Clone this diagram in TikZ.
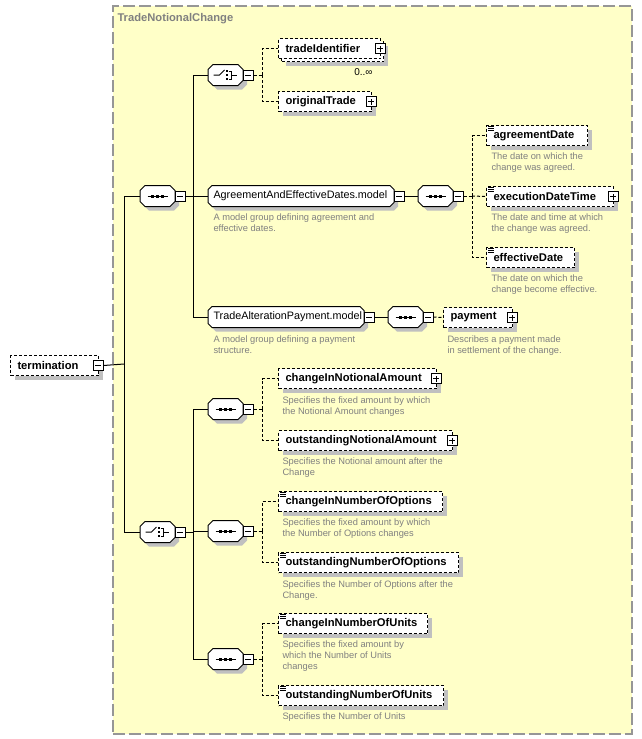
\documentclass[tikz,border=0pt]{standalone}
\usepackage{fontspec}
\setmainfont{Liberation Sans}
\usetikzlibrary{shadows}
\definecolor{bgyellow}{RGB}{255,255,200}
\definecolor{bordergray}{RGB}{150,150,150}
\definecolor{shadowgray}{RGB}{192,192,192}
\definecolor{descgray}{RGB}{128,128,128}
\tikzset{
  shad/.style={drop shadow={shadow xshift=4pt, shadow yshift=-4pt, fill=shadowgray, opacity=1}},
  elem/.style={rectangle, draw=black, dash pattern=on 3pt off 2pt, fill=white, minimum height=20pt, inner sep=0pt, shad},
  elemns/.style={rectangle, draw=black, dash pattern=on 3pt off 2pt, fill=white, minimum height=20pt, inner sep=0pt},
  compbox/.style={rectangle, draw=none, minimum width=34pt, minimum height=20pt, inner sep=0pt},
  mgbox/.style={rectangle, draw=none, minimum height=20pt, inner sep=0pt},
  octo/.style={draw=black, solid, fill=white, shad},
  mbox/.style={rectangle, draw=black, solid, fill=white, minimum size=10pt, inner sep=0pt,
    path picture={\draw[black] ([xshift=-3pt]path picture bounding box.center) -- ([xshift=3pt]path picture bounding box.center);}},
  pbox/.style={rectangle, draw=black, solid, fill=white, minimum size=10pt, inner sep=0pt,
    path picture={\draw[black] ([xshift=-3pt]path picture bounding box.center) -- ([xshift=3pt]path picture bounding box.center)
      ([yshift=-3pt]path picture bounding box.center) -- ([yshift=3pt]path picture bounding box.center);}},
  elname/.style={font=\fontsize{11.2}{13}\selectfont\bfseries, inner sep=0pt, anchor=west},
  mgname/.style={font=\fontsize{10.8}{13}\selectfont, inner sep=0pt, anchor=west},
  desc/.style={font=\fontsize{9.3}{11}\selectfont, text=descgray, align=left, inner sep=0pt, anchor=north west},
  conn/.style={draw=black, solid},
  opt/.style={draw=black, dash pattern=on 3pt off 2pt},
}
% octagon outline over a node: name, chamfer
\newcommand{\Oct}[2]{\path[octo] ([xshift=#2pt]#1.north west) -- ([xshift=-#2pt]#1.north east)
  -- ([yshift=-#2pt]#1.north east) -- ([yshift=#2pt]#1.south east) -- ([xshift=-#2pt]#1.south east)
  -- ([xshift=#2pt]#1.south west) -- ([yshift=#2pt]#1.south west) -- ([yshift=-#2pt]#1.north west) -- cycle;}
% element box: name, x, ytop, width, text
\newcommand{\El}[5]{%
  \node[elem, minimum width=#4pt, anchor=north west] (#1) at (#2,#3) {};
  \node[elname] (#1-t) at ([xshift=7pt]#1.west) {#5};}
\newcommand{\Pl}[1]{\node[pbox] (#1-p) at ([xshift=-1pt]#1.east) {};}
\newcommand{\Eqi}[1]{\draw[black, line width=1pt] ([shift={(2,1)}]#1.north west) -- ++(6,0)
   ([shift={(2,3)}]#1.north west) -- ++(6,0) ([shift={(2,5)}]#1.north west) -- ++(6,0);}
% sequence compositor: name, xleft, ycenter
\newcommand{\Seq}[3]{%
  \node[compbox, anchor=west] (#1) at (#2,#3) {};
  \Oct{#1}{5}
  \draw[black] ([xshift=-10pt]#1.center) -- ([xshift=10pt]#1.center);
  \foreach \dx in {-5,0,5} {\fill[black] ([shift={(\dx-1.5,-1.5)}]#1.center) rectangle ++(3,3);}
  \node[mbox] (#1-m) at ([xshift=5pt]#1.east) {};}
\newcommand{\Cho}[3]{%
  \node[compbox, anchor=west] (#1) at (#2,#3) {};
  \Oct{#1}{5}
  \draw[black] ([xshift=-12pt]#1.center) -- ([xshift=-6pt]#1.center) -- ([shift={(-1,-5)}]#1.center);
  \foreach \dy in {-4,0,4} {\fill[black] ([shift={(0,\dy-1)}]#1.center) rectangle ++(2,2);}
  \draw[black] ([shift={(3,-4)}]#1.center) -- ([shift={(6,-4)}]#1.center) -- ([shift={(6,4)}]#1.center) -- ([shift={(3,4)}]#1.center)
     ([shift={(6,0)}]#1.center) -- ([shift={(11,0)}]#1.center);
  \node[mbox] (#1-m) at ([xshift=5pt]#1.east) {};}
\begin{document}
\begin{tikzpicture}[x=1pt,y=-1pt,line width=1pt]
\useasboundingbox (0,0) rectangle (641,739);
% background complex type
\node[rectangle, draw=bordergray, line width=1.6pt, dash pattern=on 12pt off 4pt, fill=bgyellow,
  minimum width=519pt, minimum height=728pt, anchor=north west, inner sep=0pt] (bg) at (112,5) {};
\node[font=\fontsize{11.2}{13}\selectfont\bfseries, text=descgray, anchor=west, inner sep=0pt] (title) at (117,19) {TradeNotionalChange};

% termination
\El{term}{10}{355}{88}{termination}
\node[mbox] (term-m) at ([xshift=-1pt]term.east) {};

% top sequence and choice
\Seq{seqTop}{140}{196}
\Cho{choTop}{208}{75}

% tradeIdentifier (multiple)
\node[elem, minimum width=102pt, anchor=north west] (tidB) at (281,41) {};
\node[elemns, minimum width=102pt, anchor=north west] (tid) at (278,38) {};
\node[elname] (tid-t) at ([xshift=7pt]tid.west) {tradeIdentifier};
\Pl{tid}
\node[font=\fontsize{10}{12}\selectfont, anchor=east, inner sep=0pt] (tid-occ) at (373,72) {0..∞};

\El{ot}{278}{91}{93}{originalTrade}
\Pl{ot}

% AgreementAndEffectiveDates.model
\node[mgbox, minimum width=185pt, anchor=west] (aed) at (208,196) {};
\Oct{aed}{4}
\node[mgname] (aed-t) at ([xshift=5pt]aed.west) {AgreementAndEffectiveDates.model};
\node[mbox] (aed-m) at ([xshift=5pt]aed.east) {};
\node[desc] (aed-d) at (213,213) {A model group defining agreement and\\effective dates.};

\Seq{seqAed}{418}{196}
\El{agd}{486}{125}{101}{agreementDate}
\Eqi{agd}
\node[desc] (agd-d) at (491,152) {The date on which the\\change was agreed.};
\El{edt}{486}{186}{127}{executionDateTime}
\Eqi{edt}
\Pl{edt}
\node[desc] (edt-d) at (491,213) {The date and time at which\\the change was agreed.};
\El{efd}{486}{247}{88}{effectiveDate}
\Eqi{efd}
\node[desc] (efd-d) at (491,274) {The date on which the\\change become effective.};

% TradeAlterationPayment.model
\node[mgbox, minimum width=155pt, anchor=west] (tap) at (208,317) {};
\Oct{tap}{4}
\node[mgname] (tap-t) at ([xshift=5pt]tap.west) {TradeAlterationPayment.model};
\node[mbox] (tap-m) at ([xshift=5pt]tap.east) {};
\node[desc] (tap-d) at (213,335) {A model group defining a payment\\structure.};
\Seq{seqPay}{388}{317}
\El{pay}{443}{307}{69}{payment}
\Pl{pay}
\node[desc] (pay-d) at (447,335) {Describes a payment made\\in settlement of the change.};

% bottom choice
\Cho{choBot}{140}{532}
\Seq{seqA}{208}{409}
\Seq{seqB}{208}{531}
\Seq{seqC}{208}{659}

\El{cna}{278}{368}{158}{changeInNotionalAmount}
\Pl{cna}
\node[desc] (cna-d) at (282,396) {Specifies the fixed amount by which\\the Notional Amount changes};
\El{ona}{278}{430}{174}{outstandingNotionalAmount}
\Pl{ona}
\node[desc] (ona-d) at (282,457) {Specifies the Notional amount after the\\Change};

\El{cno}{278}{491}{164}{changeInNumberOfOptions}
\Eqi{cno}
\node[desc] (cno-d) at (282,518) {Specifies the fixed amount by which\\the Number of Options changes};
\El{ono}{278}{552}{180}{outstandingNumberOfOptions}
\Eqi{ono}
\node[desc] (ono-d) at (282,580) {Specifies the Number of Options after the\\Change.};

\El{cnu}{278}{613}{149}{changeInNumberOfUnits}
\Eqi{cnu}
\node[desc] (cnu-d) at (282,640) {Specifies the fixed amount by\\which the Number of Units\\changes};
\El{onu}{278}{685}{165}{outstandingNumberOfUnits}
\Eqi{onu}
\node[desc] (onu-d) at (282,712) {Specifies the Number of Units};

% junctions
\coordinate (j1) at (124,364);
\coordinate (j2) at (193,196);
\coordinate (j3) at (262,75);
\coordinate (j4) at (472,196);
\coordinate (j5) at (193,532);
\coordinate (j6) at (262,409);
\coordinate (j7) at (262,531);
\coordinate (j8) at (262,659);

% connectors
\draw[conn] (term-m.east) -- (j1);
\draw[conn] (j1) |- (seqTop.west);
\draw[conn] (j1) |- (choBot.west);
\draw[conn] (seqTop-m.east) -- (j2);
\draw[conn] (j2) |- (choTop.west);
\draw[conn] (j2) -- (aed.west);
\draw[conn] (j2) |- (tap.west);
\draw[opt] (choTop-m.east) -- (j3);
\draw[opt] (j3) |- (tid.west);
\draw[opt] (j3) |- (ot.west);
\draw[conn] (aed-m.east) -- (seqAed.west);
\draw[opt] (seqAed-m.east) -- (j4);
\draw[opt] (j4) |- (agd.west);
\draw[opt] (j4) -- (edt.west);
\draw[opt] (j4) |- (efd.west);
\draw[conn] (tap-m.east) -- (seqPay.west);
\draw[opt] (seqPay-m.east) -- (pay.west);
\draw[conn] (choBot-m.east) -- (j5);
\draw[conn] (j5) |- (seqA.west);
\draw[conn] (j5) |- (seqB.west);
\draw[conn] (j5) |- (seqC.west);
\draw[opt] (seqA-m.east) -- (j6);
\draw[opt] (j6) |- (cna.west);
\draw[opt] (j6) |- (ona.west);
\draw[opt] (seqB-m.east) -- (j7);
\draw[opt] (j7) |- (cno.west);
\draw[opt] (j7) |- (ono.west);
\draw[opt] (seqC-m.east) -- (j8);
\draw[opt] (j8) |- (cnu.west);
\draw[opt] (j8) |- (onu.west);
\end{tikzpicture}
\end{document}
